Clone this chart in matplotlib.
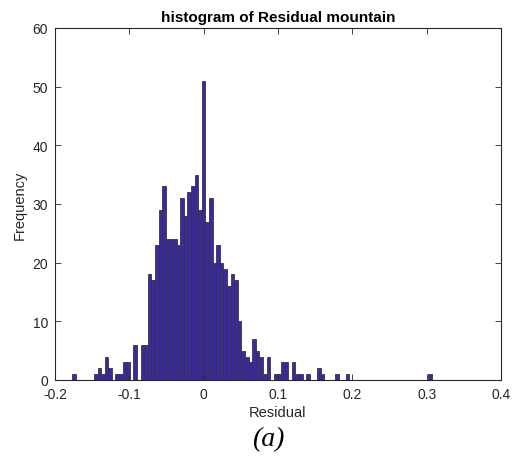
import numpy as np
import matplotlib
matplotlib.use("Agg")
import matplotlib.pyplot as plt

# Histogram data (100 bins from min to max of residuals)
bin_low = -0.1767
bin_high = 0.3073
counts = [1, 0, 0, 0, 0, 0, 1, 2, 1, 4,
          2, 0, 1, 1, 3, 3, 0, 6, 0, 6,
          6, 18, 17, 23, 29, 33, 24, 24, 24, 23,
          31, 28, 32, 33, 35, 29, 51, 27, 31, 20,
          23, 20, 19, 16, 18, 17, 10, 5, 4, 3,
          7, 5, 4, 1, 4, 0, 1, 1, 3, 3,
          0, 3, 1, 1, 0, 1, 0, 0, 2, 1,
          0, 0, 0, 1, 0, 0, 1, 0, 0, 0,
          0, 0, 0, 0, 0, 0, 0, 0, 0, 0,
          0, 0, 0, 0, 0, 0, 0, 0, 0, 1]
x_ticks = [-0.2, -0.1, 0, 0.1, 0.2, 0.3, 0.4]
x_tick_labels = ["-0.2", "-0.1", "0", "0.1", "0.2", "0.3", "0.4"]
y_ticks = [0, 10, 20, 30, 40, 50, 60]
title = "histogram of Residual mountain"
xlabel = "Residual"
ylabel = "Frequency"
caption = "(a)"

plt.rcParams['font.family'] = ['Liberation Sans', 'DejaVu Sans']
W, H = 518, 460
fig = plt.figure(figsize=(W / 100, H / 100), dpi=100)
ax = fig.add_axes([55 / W, (H - 381) / H, 446 / W, 352 / H])

edges = np.linspace(bin_low, bin_high, len(counts) + 1)
ax.bar(edges[:-1], counts, width=np.diff(edges), align='edge',
       color='#3b2a9c', edgecolor='#33334a', linewidth=0.6)

ax.set_xlim(-0.2, 0.4)
ax.set_ylim(0, 60)
ax.set_xticks(x_ticks)
ax.set_xticklabels(x_tick_labels)
ax.set_yticks(y_ticks)
axcol = '#262626'
for s in ax.spines.values():
    s.set_color(axcol)
    s.set_linewidth(0.8)
ax.tick_params(direction='in', length=4, width=0.6, colors=axcol,
               top=True, right=True, labelsize=10, pad=5)

ax.set_title(title, fontsize=11, fontweight='bold', color='black', pad=5)
ax.set_xlabel(xlabel, fontsize=10.5, color=axcol, labelpad=3)
ax.set_ylabel(ylabel, fontsize=10.5, color=axcol, labelpad=4)

fig.text(268 / W, 1 - 440 / H, caption, fontsize=20, style='italic',
         family=['Liberation Serif', 'DejaVu Serif'], ha='center', va='center',
         color='black')

fig.savefig("out.png", dpi=100)
